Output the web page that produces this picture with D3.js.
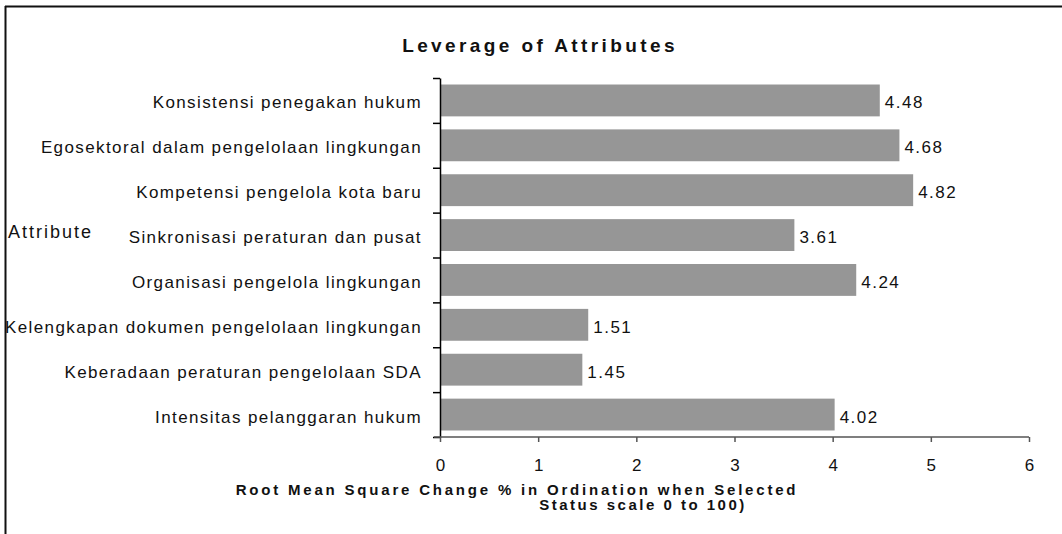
<!DOCTYPE html>
<html>
<head>
<meta charset="utf-8">
<script src="https://cdn.jsdelivr.net/npm/d3@7"></script>
<style>
  body { margin: 0; background: #fff; }
  svg { display: block; font-family: "Liberation Sans", Arial, sans-serif; }
</style>
</head>
<body>
<svg id="chart" width="1062" height="534"></svg>
<script>
var attributes = [
    "Konsistensi penegakan hukum",
    "Egosektoral dalam pengelolaan lingkungan",
    "Kompetensi pengelola kota baru",
    "Sinkronisasi peraturan dan pusat",
    "Organisasi pengelola lingkungan",
    "Kelengkapan dokumen pengelolaan lingkungan",
    "Keberadaan peraturan pengelolaan SDA",
    "Intensitas pelanggaran hukum"
];
var rmsValues = [4.48, 4.68, 4.82, 3.61, 4.24, 1.51, 1.45, 4.02];
var valueLabels = ["4.48", "4.68", "4.82", "3.61", "4.24", "1.51", "1.45", "4.02"];
var xTicks = [0, 1, 2, 3, 4, 5, 6];

var svg = d3.select("#chart");
var plotLeft = 440, plotRight = 1029, plotTop = 78, plotBottom = 437;

// frame (top and left edges only, like the source image)
svg.append("line").attr("x1", 5).attr("x2", 1062).attr("y1", 6.5).attr("y2", 6.5)
   .attr("stroke", "#111").attr("stroke-width", 2);
svg.append("line").attr("x1", 5.5).attr("x2", 5.5).attr("y1", 6).attr("y2", 534)
   .attr("stroke", "#111").attr("stroke-width", 2);

var xScale = d3.scaleLinear().domain([0, 6]).range([plotLeft, plotRight]);

var yScale = d3.scaleBand()
               .domain(attributes)
               .range([plotTop, plotBottom])
               .paddingInner(0.29)
               .paddingOuter(0.145);

var yEdges = d3.scaleLinear().domain([0, attributes.length]).range([plotTop, plotBottom]);

svg.selectAll("rect.bar")
   .data(attributes)
   .enter()
   .append("rect")
   .attr("class", "bar")
   .attr("x", xScale(0))
   .attr("y", function(d) { return yScale(d); })
   .attr("width", function(d, i) { return xScale(rmsValues[i]) - xScale(0); })
   .attr("height", yScale.bandwidth())
   .attr("fill", "#969696");

// value labels
svg.selectAll("text.val")
   .data(attributes)
   .enter()
   .append("text")
   .attr("class", "val")
   .attr("x", function(d, i) { return xScale(rmsValues[i]) + 5; })
   .attr("y", function(d) { return yScale(d) + yScale.bandwidth() / 2 + 8; })
   .attr("font-size", 17)
   .attr("letter-spacing", 1.5)
   .attr("fill", "#111")
   .text(function(d, i) { return valueLabels[i]; });

// y axis: ticks at band edges
var yAxis = d3.axisLeft(yEdges)
              .tickValues(d3.range(attributes.length + 1))
              .tickFormat("")
              .tickSize(7)
              .tickSizeOuter(0);
var gy = svg.append("g")
   .attr("transform", "translate(" + plotLeft + ",0)")
   .call(yAxis);
gy.selectAll("line, path").attr("stroke", "#000").attr("stroke-width", 1.5);

// category labels
svg.selectAll("text.cat")
   .data(attributes)
   .enter()
   .append("text")
   .attr("class", "cat")
   .attr("x", plotLeft - 18)
   .attr("y", function(d) { return yScale(d) + yScale.bandwidth() / 2 + 8; })
   .attr("text-anchor", "end")
   .attr("font-size", 17)
   .attr("letter-spacing", 1.4)
   .attr("fill", "#111")
   .text(function(d) { return d; });

// x axis
var xAxis = d3.axisBottom(xScale)
              .tickValues(xTicks)
              .tickFormat(d3.format("d"))
              .tickSize(5)
              .tickSizeOuter(0);
var gx = svg.append("g")
   .attr("transform", "translate(0," + plotBottom + ")")
   .call(xAxis);
gx.select("path.domain").attr("d", "M" + (plotLeft - 6) + ",0H" + plotRight).attr("stroke", "#555").attr("stroke-width", 1.5);
gx.selectAll(".tick line").attr("stroke", "#555").attr("stroke-width", 1.5);
gx.selectAll(".tick text")
  .attr("dy", 0).attr("y", 34)
  .attr("font-size", 17)
  .attr("font-family", "Liberation Sans, Arial, sans-serif")
  .attr("fill", "#111");

// title
svg.append("text")
   .attr("x", 540).attr("y", 52)
   .attr("text-anchor", "middle")
   .attr("font-size", 19).attr("font-weight", "bold")
   .attr("letter-spacing", 3.4)
   .attr("fill", "#111")
   .text("Leverage of Attributes");

// y axis title
svg.append("text")
   .attr("x", 8).attr("y", 238)
   .attr("font-size", 18)
   .attr("letter-spacing", 2)
   .attr("fill", "#111")
   .text("Attribute");

// x axis title (two lines)
svg.append("text")
   .attr("x", 517).attr("y", 495)
   .attr("text-anchor", "middle")
   .attr("font-size", 15).attr("font-weight", "bold")
   .attr("letter-spacing", 2.8)
   .attr("fill", "#111")
   .text("Root Mean Square Change % in Ordination when Selected");
svg.append("text")
   .attr("x", 643).attr("y", 510)
   .attr("text-anchor", "middle")
   .attr("font-size", 15).attr("font-weight", "bold")
   .attr("letter-spacing", 2.5)
   .attr("fill", "#111")
   .text("Status scale 0 to 100)");
</script>
</body>
</html>
